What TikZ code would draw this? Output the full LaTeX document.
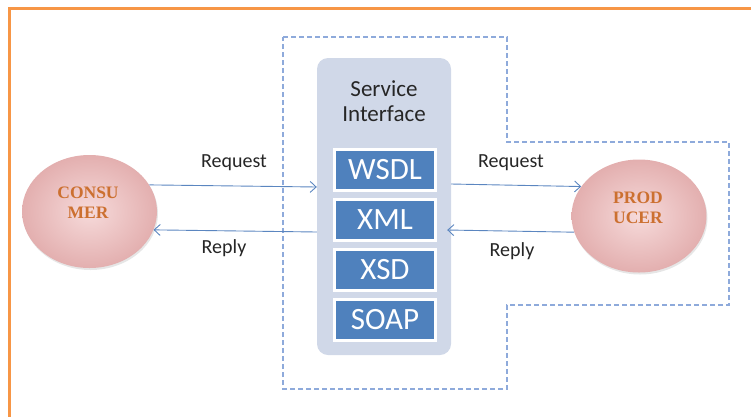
\documentclass[tikz,border=0pt]{standalone}
\usepackage{fontspec}
\setmainfont{Carlito}
\newfontfamily\serifb{Liberation Serif}
\usetikzlibrary{shapes.geometric,arrows.meta,shadows}
\definecolor{frameor}{HTML}{F79646}
\definecolor{sigray}{HTML}{D0D8E8}
\definecolor{siblue}{HTML}{4F81BD}
\definecolor{dashblue}{HTML}{8EAADB}
\definecolor{arrowblue}{HTML}{5B86C0}
\definecolor{txtdark}{HTML}{262626}
\definecolor{roletxt}{HTML}{CC7030}
\definecolor{pinkin}{HTML}{F6DADA}
\definecolor{pinkout}{HTML}{E3AFAF}
\tikzset{
  role/.style={ellipse, inner sep=0pt, minimum width=135pt, minimum height=113pt,
    inner color=pinkin, outer color=pinkout,
    drop shadow={opacity=0.2, shadow xshift=1pt, shadow yshift=-2pt}},
  roletext/.style={font=\serifb\bfseries\fontsize{17.5}{20}\selectfont, text=roletxt, align=center, inner sep=0pt},
  techbox/.style={draw=white, line width=3pt, fill=siblue, minimum width=101pt,
    minimum height=41pt, inner sep=0pt, text=white, font=\fontsize{31}{33}\selectfont},
  flow/.style={draw=arrowblue, line width=0.9pt, -{Straight Barb[length=6pt,width=11pt]}},
  flowlabel/.style={text=txtdark, font=\fontsize{20}{22}\selectfont, inner sep=0pt}
}
\begin{document}
\begin{tikzpicture}[x=1pt,y=-1pt]
\useasboundingbox (0,0) rectangle (751,416);
\clip (0,0) rectangle (751,416);
% orange frame
\draw[frameor, line width=3pt] (9,8) rectangle (780,440);
% dashed boundary
\draw[dashblue, line width=1.3pt, dash pattern=on 5pt off 3pt]
  (283,37) -- (507,37) -- (507,142) -- (729,142) -- (729,305) -- (507,305)
  -- (507,389) -- (283,389) -- cycle;
% service interface
\node[fill=sigray, rounded corners=11pt, minimum width=134pt, minimum height=297pt, inner sep=0pt] (si) at (384,206.5) {};
\node[text=txtdark, font=\fontsize{23}{25}\selectfont, align=center, inner sep=0pt] (sititle) at (384,101) {Service\\Interface};
\node[techbox] (wsdl) at (385,170) {WSDL};
\node[techbox] (xml) at (385,220) {XML};
\node[techbox] (xsd) at (385,270) {XSD};
\node[techbox] (soap) at (385,320) {SOAP};
% roles
\node[role] (cons) at (89.5,211.5) {};
\node[roletext] (constxt) at (88,203) {CONSU\\MER};
\node[role] (prod) at (639,216) {};
\node[roletext] (prodtxt) at (638,208) {PROD\\UCER};
% connectors
\draw[flow] (cons.24) -- ([yshift=19.5pt]si.west);
\draw[flow] ([yshift=-25.5pt]si.west) -- (cons.344);
\draw[flow] ([yshift=22.5pt]si.east) -- (prod.153);
\draw[flow] (prod.194) -- ([yshift=-23.5pt,xshift=-4pt]si.east);
% labels
\node[flowlabel] (lreq) at (234,163) {Request};
\node[flowlabel] (lrep) at (224,248) {Reply};
\node[flowlabel] (rreq) at (511,163) {Request};
\node[flowlabel] (rrep) at (512,251) {Reply};
\end{tikzpicture}
\end{document}
